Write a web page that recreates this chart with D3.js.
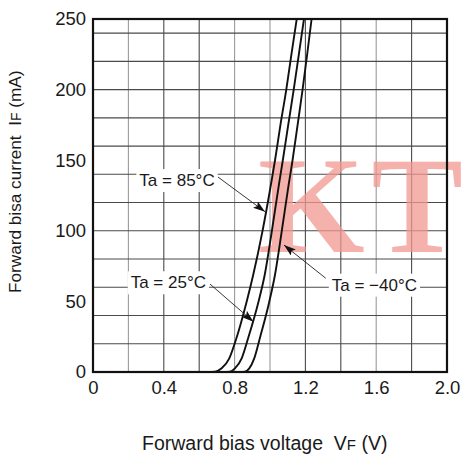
<!DOCTYPE html>
<html>
<head>
<meta charset="utf-8">
<script src="https://cdn.jsdelivr.net/npm/d3@7/dist/d3.min.js"></script>
<style>
  html, body { margin: 0; padding: 0; background: #fff; }
  svg { display: block; }
  text { font-family: "Liberation Sans", Arial, Helvetica, sans-serif; fill: #1a1a1a; white-space: pre; }
</style>
</head>
<body>
<svg id="chart" width="464" height="457"></svg>
<script>
// ---- data (V in volts, I in mA) ----
const series85 = [
  [0, 0], [0.65, 0], [0.69, 0.3], [0.727, 2.6], [0.77, 9.7], [0.812, 24.6],
  [0.868, 49.8], [0.905, 68.7], [0.957, 99.4], [1.0, 128.9], [1.028, 149.6],
  [1.059, 175], [1.092, 200], [1.121, 225], [1.151, 250]
];
const series25 = [
  [0, 0], [0.74, 0], [0.774, 0.3], [0.802, 2.6], [0.84, 9.7], [0.878, 24.6],
  [0.935, 49.8], [0.97, 68.7], [1.01, 99.4], [1.05, 132.4], [1.072, 149.6],
  [1.103, 175], [1.134, 200], [1.163, 225], [1.192, 250]
];
const seriesM40 = [
  [0, 0], [0.83, 0], [0.859, 0.3], [0.883, 2.6], [0.911, 9.7], [0.944, 24.6],
  [0.996, 49.8], [1.028, 68.7], [1.066, 99.4], [1.105, 132.4], [1.127, 149.6],
  [1.156, 175], [1.184, 200], [1.21, 225], [1.235, 250]
];
const xTickValues = [0, 0.4, 0.8, 1.2, 1.6, 2.0];
const xTickLabels = ["0", "0.4", "0.8", "1.2", "1.6", "2.0"];
const yTickValues = [0, 50, 100, 150, 200, 250];
const yTickLabels = ["0", "50", "100", "150", "200", "250"];
const seriesNames = ["Ta = 85°C", "Ta = 25°C", "Ta = \u221240°C"];
// label anchor (text start) and leader line start/tip, in data coordinates
const labelText = [[0.262, 131.7], [0.213, 59.3], [1.349, 57.6]];
const leaderFrom = [[0.706, 138.1], [0.661, 62.3], [1.315, 66.4]];
const leaderTo = [[0.972, 113.5], [0.906, 35.6], [1.079, 89.9]];

// ---- layout ----
const svg = d3.select("#chart");
const pL = 93, pR = 447, pT = 19, pB = 372;
const x = d3.scaleLinear().domain([0, 2]).range([pL, pR]);
const y = d3.scaleLinear().domain([0, 250]).range([pB, pT]);

// grid
const lightV = new Set([0.2, 0.8, 1.0, 1.6].map(v => v.toFixed(1)));
svg.append("g").selectAll("line").data(x.ticks(10)).join("line")
  .attr("x1", d => x(d)).attr("x2", d => x(d))
  .attr("y1", pT).attr("y2", pB)
  .attr("stroke", d => lightV.has(d.toFixed(1)) ? "#9a9a9a" : "#4a4a4a")
  .attr("stroke-width", 1.1);
svg.append("g").selectAll("line").data(y.ticks(10)).join("line")
  .attr("x1", pL).attr("x2", pR)
  .attr("y1", d => y(d)).attr("y2", d => y(d))
  .attr("stroke", "#4a4a4a")
  .attr("stroke-width", 1.1);

// watermark
const wm = svg.append("text")
  .attr("x", x(0.932)).attr("y", y(85))
  .style("font-family", "'Liberation Serif', 'DejaVu Serif', serif")
  .style("font-weight", "bold")
  .style("font-size", "137px")
  .style("fill", "#f29890")
  .style("opacity", 0.75);
wm.append("tspan").text("K");
wm.append("tspan").attr("dx", 7).text("T");

// label boxes + labels
const labels = svg.append("g");
seriesNames.forEach((name, i) => {
  const t = labels.append("text")
    .attr("x", x(labelText[i][0])).attr("y", y(labelText[i][1]))
    .style("font-size", "17px")
    .text(name);
  const bb = t.node().getBBox();
  labels.insert("rect", "text")
    .attr("x", bb.x - 3).attr("y", bb.y - 2)
    .attr("width", bb.width + 6).attr("height", bb.height + 4)
    .attr("fill", "#fff");
});

// curves
const line = d3.line().x(d => x(d[0])).y(d => y(d[1])).curve(d3.curveMonotoneX);
svg.append("g").selectAll("path").data([series85, series25, seriesM40]).join("path")
  .attr("d", line)
  .attr("fill", "none")
  .attr("stroke", "#111")
  .attr("stroke-width", 1.9);

// arrows
svg.append("defs").append("marker")
  .attr("id", "arr").attr("markerUnits", "userSpaceOnUse")
  .attr("markerWidth", 14).attr("markerHeight", 10)
  .attr("refX", 12).attr("refY", 4).attr("orient", "auto")
  .append("path").attr("d", "M0,0 L12,4 L0,8 L2.5,4 Z").attr("fill", "#111");
svg.append("g").selectAll("line").data(leaderFrom).join("line")
  .attr("x1", d => x(d[0])).attr("y1", d => y(d[1]))
  .attr("x2", (d, i) => x(leaderTo[i][0])).attr("y2", (d, i) => y(leaderTo[i][1]))
  .attr("stroke", "#222").attr("stroke-width", 0.9)
  .attr("marker-end", "url(#arr)");

// frame
svg.append("rect")
  .attr("x", pL).attr("y", pT)
  .attr("width", pR - pL).attr("height", pB - pT)
  .attr("fill", "none").attr("stroke", "#111").attr("stroke-width", 2.2);

// axes (labels only)
const xAxis = d3.axisBottom(x).tickValues(xTickValues).tickSize(0).tickPadding(0)
  .tickFormat((d, i) => xTickLabels[i]);
const gx = svg.append("g").attr("transform", `translate(0,${pB})`).call(xAxis);
gx.select(".domain").remove();
gx.selectAll("text").attr("dy", null).attr("y", 22)
  .style("font-size", "18.5px").style("fill", "#1a1a1a")
  .style("font-family", "'Liberation Sans', Arial, sans-serif");

const yAxis = d3.axisLeft(y).tickValues(yTickValues).tickSize(0).tickPadding(0)
  .tickFormat((d, i) => yTickLabels[i]);
const gy = svg.append("g").attr("transform", `translate(${pL - 7},0)`).call(yAxis);
gy.select(".domain").remove();
gy.selectAll("text").attr("dy", "0.32em").attr("x", 0)
  .style("font-size", "18.5px").style("fill", "#1a1a1a")
  .style("font-family", "'Liberation Sans', Arial, sans-serif");

// axis titles
const xt = svg.append("text").attr("x", 142).attr("y", 450).style("font-size", "19.5px");
xt.append("tspan").text("Forward bias voltage  V");
xt.append("tspan").style("font-size", "15px").text("F");
xt.append("tspan").text(" (V)");

const yt = svg.append("text")
  .attr("transform", "translate(21,293) rotate(-90)")
  .style("font-size", "17.2px");
yt.append("tspan").text("Forward bisa current  I");
yt.append("tspan").style("font-size", "14px").text("F");
yt.append("tspan").text(" (mA)");
</script>
</body>
</html>
